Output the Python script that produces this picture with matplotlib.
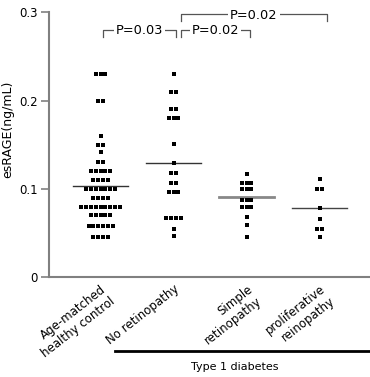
import numpy as np
import matplotlib
matplotlib.use('Agg')
import matplotlib.pyplot as plt
import matplotlib.transforms as mtransforms

plt.rcParams['font.family'] = 'DejaVu Sans'

# dot rows per group: value level and number of dots at that level
ctrl_levels = [0.23, 0.20, 0.16, 0.15, 0.142, 0.131, 0.12, 0.11, 0.10, 0.09, 0.08, 0.07, 0.058, 0.046]
ctrl_counts = [3, 2, 1, 2, 1, 2, 5, 4, 7, 4, 9, 5, 6, 4]
noret_levels = [0.23, 0.21, 0.19, 0.18, 0.151, 0.129, 0.118, 0.107, 0.096, 0.067, 0.055, 0.047]
noret_counts = [1, 2, 2, 3, 1, 1, 2, 2, 3, 4, 1, 1]
simple_levels = [0.117, 0.107, 0.10, 0.087, 0.079, 0.068, 0.059, 0.046]
simple_counts = [1, 3, 3, 3, 3, 1, 1, 1]
prolif_levels = [0.111, 0.10, 0.078, 0.066, 0.055, 0.046]
prolif_counts = [1, 2, 1, 1, 2, 1]

medians = [0.103, 0.129, 0.091, 0.078]
median_colors = ['#333333', '#333333', '#888888', '#444444']
median_widths = [1.0, 1.0, 2.0, 1.0]

group_labels = ['Age-matched\nhealthy control', 'No retinopathy',
                'Simple\nretinopathy', 'proliferative\nreinopathy']
label_shift_pt = [-4, 18, -5, 0]

# comparisons: (x start, x end, label, bracket top)
comparisons = [
    (0.03, 1.03, 'P=0.03', 0.280),
    (1.10, 2.05, 'P=0.02', 0.280),
    (1.10, 3.10, 'P=0.02', 0.298),
]

groups = [(ctrl_levels, ctrl_counts), (noret_levels, noret_counts),
          (simple_levels, simple_counts), (prolif_levels, prolif_counts)]

fig = plt.figure(figsize=(3.7, 3.77), dpi=100)
ax = fig.add_axes([0.132, 0.265, 0.868, 0.702])

spacing = 0.066
for gi, (levels, counts) in enumerate(groups):
    xs, ys = [], []
    for v, n in zip(levels, counts):
        for k in range(n):
            xs.append(gi + (k - (n - 1) / 2) * spacing)
            ys.append(v)
    ax.scatter(xs, ys, marker='s', s=7, color='black', linewidths=0, zorder=3)
    ax.plot([gi - 0.38, gi + 0.38], [medians[gi], medians[gi]],
            color=median_colors[gi], lw=median_widths[gi], zorder=2)

for x0, x1, label, top in comparisons:
    ax.plot([x0, x0, x1, x1], [top - 0.008, top, top, top - 0.008],
            color='#555555', lw=0.9, clip_on=False)
    ax.text((x0 + x1) / 2, top - 0.001, label, ha='center', va='center',
            fontsize=9.3, color='black',
            bbox=dict(facecolor='white', edgecolor='none', pad=1.5))

ax.set_xlim(-0.71, 3.69)
ax.set_ylim(0, 0.3)
ax.set_yticks([0, 0.1, 0.2, 0.3])
ax.set_yticklabels(['0', '0.1', '0.2', '0.3'], fontsize=8.5)
ax.set_xticks(range(4))
ax.set_xticklabels(group_labels, fontsize=8.5, rotation=38, ha='right',
                   va='top', rotation_mode='anchor', multialignment='right')
for lbl, dx in zip(ax.get_xticklabels(), label_shift_pt):
    lbl.set_transform(lbl.get_transform() +
                      mtransforms.ScaledTranslation(dx / 72, 0, fig.dpi_scale_trans))
ax.tick_params(axis='x', length=0, pad=4)
ax.tick_params(axis='y', length=6, width=1.2, color='#808080', pad=2)
ax.set_ylabel('esRAGE(ng/mL)', fontsize=9)
ax.yaxis.set_label_coords(-0.108, 0.56)

for side in ['top', 'right']:
    ax.spines[side].set_visible(False)
for side in ['left', 'bottom']:
    ax.spines[side].set_color('#808080')
    ax.spines[side].set_linewidth(1.5)

# Type 1 diabetes group marker under the axis
ax.plot([0.19, 3.69], [-0.0836, -0.0836], color='black', lw=2, clip_on=False)
ax.text(1.84, -0.102, 'Type 1 diabetes', ha='center', va='center', fontsize=8)

fig.savefig('out.png', dpi=100)
